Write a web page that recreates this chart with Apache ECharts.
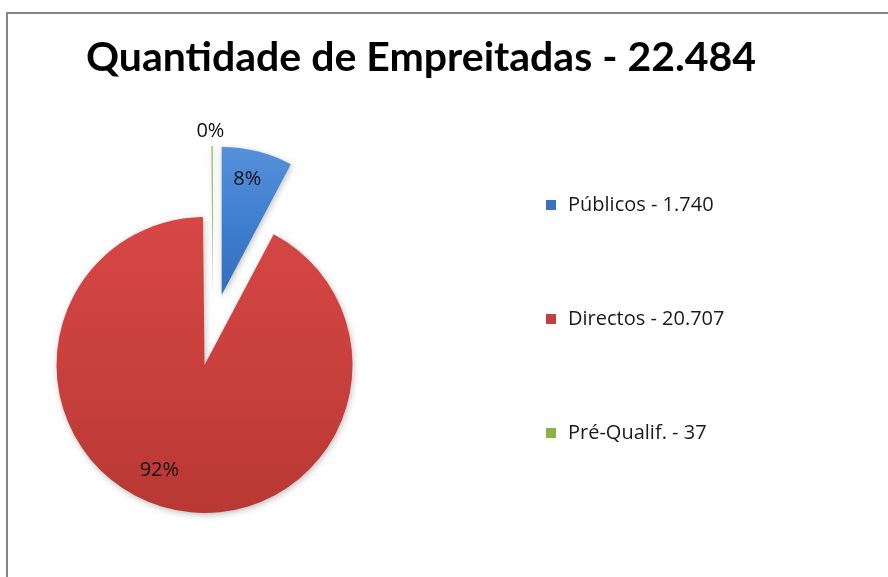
<!DOCTYPE html>
<html>
<head>
<meta charset="utf-8">
<script src="https://cdn.jsdelivr.net/npm/echarts@6/dist/echarts.min.js"></script>
<style>
  html, body { margin: 0; padding: 0; background: #fff; }
  #chart { width: 888px; height: 577px; }
</style>
</head>
<body>
<div id="chart"></div>
<script>
// ---- data ----
const titleText = 'Quantidade de Empreitadas - 22.484';
const categories = ['Públicos', 'Directos', 'Pré-Qualif.'];
const values = [1740, 20707, 37];

// ---- styles ----
const colorStops = [
  ['#5690DA', '#3F7FCF', '#336DBB'],
  ['#D64745', '#C9403D', '#B83834'],
  ['#A9C46A', '#93AE55', '#7E9748']
];
const legendIconColors = ['#3B73BA', '#C0413E', '#8FB043'];
// label nudges relative to default inside position (dx, dy)
const labelNudge = [[7, -41], [-27, 30], [-2, -86]];

function fmt(n) {
  return String(n).replace(/\B(?=(\d{3})+(?!\d))/g, '.');
}

const chart = echarts.init(document.getElementById('chart'), null, { renderer: 'canvas' });

const data = categories.map((name, i) => ({
  name: name,
  value: values[i],
  selected: true,
  itemStyle: {
    color: {
      type: 'linear', x: 0, y: 0, x2: 0, y2: 1,
      colorStops: [
        { offset: 0, color: colorStops[i][0] },
        { offset: 0.5, color: colorStops[i][1] },
        { offset: 1, color: colorStops[i][2] }
      ]
    }
  }
}));

const option = {
  backgroundColor: '#ffffff',
  animation: false,
  title: {
    text: titleText,
    left: 416,
    top: 32,
    textAlign: 'center',
    textStyle: {
      fontFamily: 'Lato',
      fontWeight: 'bold',
      fontSize: 41,
      color: '#000000'
    }
  },
  legend: {
    orient: 'vertical',
    left: 546,
    top: 195,
    padding: 0,
    itemWidth: 10,
    itemHeight: 10,
    itemGap: 94,
    itemTextGap: 5,
    icon: 'rect',
    selectedMode: false,
    data: categories.map((c, i) => ({ name: c, itemStyle: { color: legendIconColors[i] } })),
    formatter: function (name) {
      const i = categories.indexOf(name);
      return name + ' - ' + fmt(values[i]);
    },
    textStyle: {
      fontFamily: 'Open Sans',
      fontSize: 20,
      lineHeight: 20,
      color: '#1a1a1a',
      padding: [0, 0, 0, 7]
    }
  },
  graphic: [{
    type: 'rect',
    shape: { x: 7, y: 13, width: 900, height: 600 },
    style: { fill: 'none', stroke: '#868686', lineWidth: 2 },
    z: -10
  }],
  series: [{
    type: 'pie',
    center: [213, 330],
    radius: [0, 148],
    startAngle: 90,
    clockwise: true,
    selectedMode: 'multiple',
    selectedOffset: 36,
    avoidLabelOverlap: false,
    minShowLabelAngle: 0,
    data: data,
    itemStyle: {
      borderWidth: 0,
      shadowBlur: 6,
      shadowColor: 'rgba(0,0,0,0.25)',
      shadowOffsetX: 1,
      shadowOffsetY: 2
    },
    label: {
      show: true,
      position: 'inside',
      fontFamily: 'Open Sans',
      fontSize: 20,
      color: '#111111',
      formatter: function (p) { return Math.round(p.percent) + '%'; }
    },
    labelLine: { show: false },
    labelLayout: function (params) {
      const n = labelNudge[params.dataIndex] || [0, 0];
      return { dx: n[0], dy: n[1] };
    },
    emphasis: { disabled: true },
    select: { itemStyle: {} }
  }]
};

chart.setOption(option);
</script>
</body>
</html>
